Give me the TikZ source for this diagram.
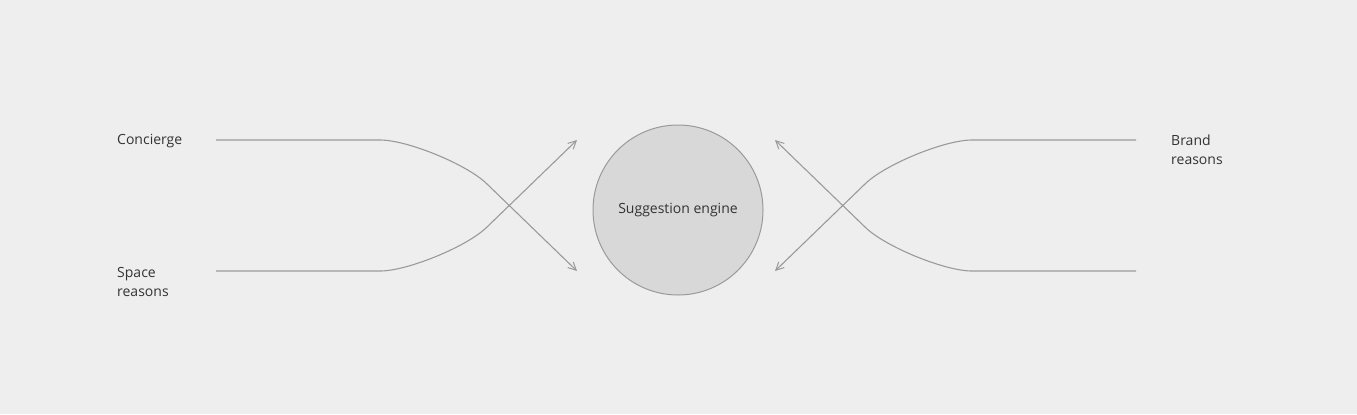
\documentclass[tikz,border=0pt]{standalone}
\usepackage{fontspec}
\setmainfont{Open Sans}
\usetikzlibrary{arrows.meta}
\definecolor{bg}{HTML}{EEEEEE}
\definecolor{ln}{HTML}{9A9A9A}
\definecolor{cf}{HTML}{D8D8D8}
\definecolor{tx}{HTML}{333333}
\begin{document}
\begin{tikzpicture}[x=1bp,y=-1bp,
  flow/.style={draw=ln,line width=1.1bp},
  tip/.style={-{Straight Barb[length=8bp,width=8bp,line width=1bp]}},
  lbl/.style={text=tx,font=\fontsize{14bp}{19bp}\selectfont,anchor=north west,inner sep=0pt,align=left}]
\path[fill=bg] (0,0) rectangle (1357,414);
\node[circle,draw=ln,fill=cf,line width=1bp,minimum size=170bp,inner sep=0pt,text=tx,font=\fontsize{14bp}{16bp}\selectfont] (eng) at (678,210) {Suggestion engine};
\node[lbl] (con) at (117,134.5) {Concierge};
\node[lbl] (spa) at (117,267.5) {Space\\reasons};
\node[lbl] (bra) at (1171,134.5) {Brand\\reasons};
\coordinate (a1) at (216,140); \coordinate (a2) at (380,140); \coordinate (a3) at (487,184); \coordinate (a4) at (577,271);
\coordinate (b1) at (216,271); \coordinate (b2) at (380,271); \coordinate (b3) at (487,227); \coordinate (b4) at (577,140);
\coordinate (c1) at (1136,140); \coordinate (c2) at (972,140); \coordinate (c3) at (865,184); \coordinate (c4) at (775,271);
\coordinate (d1) at (1136,271); \coordinate (d2) at (972,271); \coordinate (d3) at (865,227); \coordinate (d4) at (775,140);
\draw[flow,tip] (a1) -- (a2) .. controls (408,140) and (468,165) .. (a3) -- (a4);
\draw[flow,tip] (b1) -- (b2) .. controls (408,271) and (468,246) .. (b3) -- (b4);
\draw[flow,tip] (c1) -- (c2) .. controls (944,140) and (884,165) .. (c3) -- (c4);
\draw[flow,tip] (d1) -- (d2) .. controls (944,271) and (884,246) .. (d3) -- (d4);
\end{tikzpicture}
\end{document}
